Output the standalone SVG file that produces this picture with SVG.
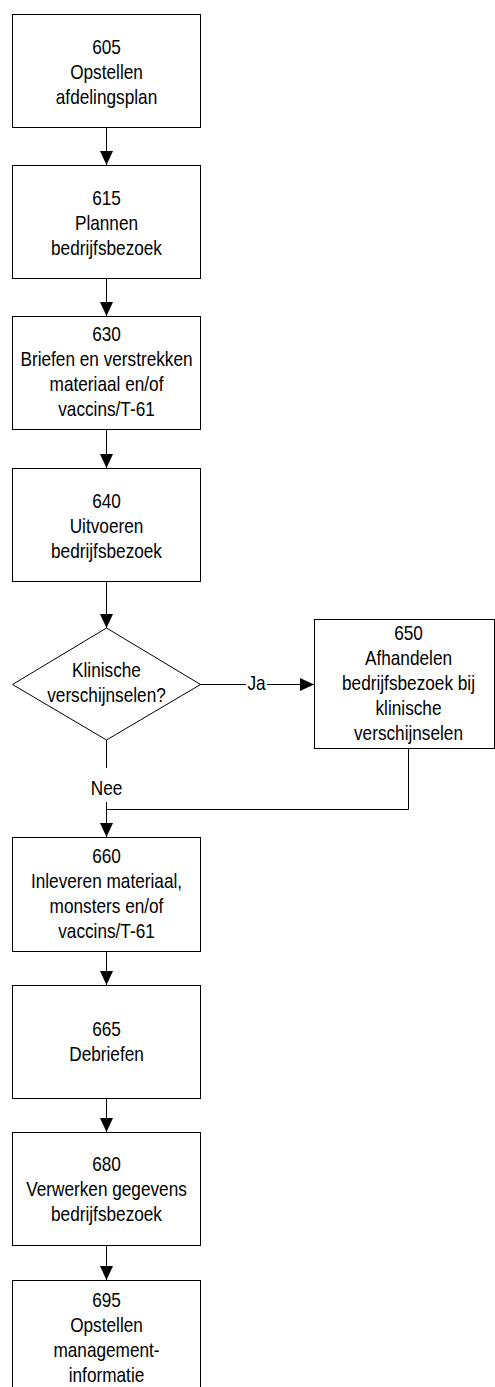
<svg xmlns="http://www.w3.org/2000/svg" width="495" height="1387" viewBox="0 0 495 1387">
<style>
.box{fill:#fff;stroke:#000;stroke-width:1}
.t{font-family:"Liberation Sans",Arial,sans-serif;font-size:21px;text-anchor:middle;fill:#000}
.c{fill:none;stroke:#000;stroke-width:1}
.a{marker-end:url(#ah)}
</style>
<defs>
<marker id="ah" markerUnits="userSpaceOnUse" markerWidth="14" markerHeight="14" refX="14" refY="7" orient="auto">
<path d="M0,0.5 L14,7 L0,13.5 z" fill="#000"/>
</marker>
</defs>
<rect width="495" height="1387" fill="#fff"/>
<g id="connectors">
<path class="c a" d="M106.5,127.5 V165"/>
<path class="c a" d="M106.5,278.5 V316"/>
<path class="c a" d="M106.5,429.5 V468"/>
<path class="c a" d="M106.5,581.5 V628"/>
<path class="c a" d="M200,684.5 H314"/>
<path class="c a" d="M106.5,740 V837"/>
<path class="c" d="M408.5,748.5 V809.5 H106.5"/>
<path class="c a" d="M106.5,951.5 V985"/>
<path class="c a" d="M106.5,1098.5 V1132"/>
<path class="c a" d="M106.5,1245.5 V1280"/>
<rect x="246" y="672" width="21" height="20" fill="#fff"/>
<text class="t" transform="translate(256.5 0) scale(0.82 1)" x="0" y="690">Ja</text>
<rect x="88" y="768" width="37" height="34" fill="#fff"/>
<text class="t" transform="translate(106.5 0) scale(0.82 1)" x="0" y="795">Nee</text>
</g>
<g id="n605">
<rect class="box" x="12.5" y="14.5" width="188" height="113"/>
<text class="t" transform="translate(106.5 0) scale(0.82 1)"><tspan x="0" y="54">605</tspan><tspan x="0" y="79">Opstellen</tspan><tspan x="0" y="104">afdelingsplan</tspan></text>
</g>
<g id="n615">
<rect class="box" x="12.5" y="165.5" width="188" height="113"/>
<text class="t" transform="translate(106.5 0) scale(0.82 1)"><tspan x="0" y="205">615</tspan><tspan x="0" y="230">Plannen</tspan><tspan x="0" y="255">bedrijfsbezoek</tspan></text>
</g>
<g id="n630">
<rect class="box" x="12.5" y="316.5" width="188" height="113"/>
<text class="t" transform="translate(106.5 0) scale(0.82 1)"><tspan x="0" y="341">630</tspan><tspan x="0" y="366">Briefen en verstrekken</tspan><tspan x="0" y="391">materiaal en/of</tspan><tspan x="0" y="416">vaccins/T-61</tspan></text>
</g>
<g id="n640">
<rect class="box" x="12.5" y="468.5" width="188" height="113"/>
<text class="t" transform="translate(106.5 0) scale(0.82 1)"><tspan x="0" y="508">640</tspan><tspan x="0" y="533">Uitvoeren</tspan><tspan x="0" y="558">bedrijfsbezoek</tspan></text>
</g>
<g id="decision">
<path class="box" d="M106.5,628 L200.5,684.5 L106.5,740 L12.5,684.5 z"/>
<text class="t" transform="translate(106.5 0) scale(0.82 1)"><tspan x="0" y="677">Klinische</tspan><tspan x="0" y="702">verschijnselen?</tspan></text>
</g>
<g id="n650">
<rect class="box" x="314.5" y="619.5" width="180" height="129"/>
<text class="t" transform="translate(408.5 0) scale(0.82 1)"><tspan x="0" y="640">650</tspan><tspan x="0" y="665">Afhandelen</tspan><tspan x="0" y="690">bedrijfsbezoek bij</tspan><tspan x="0" y="715">klinische</tspan><tspan x="0" y="740">verschijnselen</tspan></text>
</g>
<g id="n660">
<rect class="box" x="12.5" y="837.5" width="188" height="114"/>
<text class="t" transform="translate(106.5 0) scale(0.82 1)"><tspan x="0" y="863">660</tspan><tspan x="0" y="888">Inleveren materiaal,</tspan><tspan x="0" y="913">monsters en/of</tspan><tspan x="0" y="938">vaccins/T-61</tspan></text>
</g>
<g id="n665">
<rect class="box" x="12.5" y="985.5" width="188" height="113"/>
<text class="t" transform="translate(106.5 0) scale(0.82 1)"><tspan x="0" y="1036">665</tspan><tspan x="0" y="1061">Debriefen</tspan></text>
</g>
<g id="n680">
<rect class="box" x="12.5" y="1132.5" width="188" height="113"/>
<text class="t" transform="translate(106.5 0) scale(0.82 1)"><tspan x="0" y="1171">680</tspan><tspan x="0" y="1196">Verwerken gegevens</tspan><tspan x="0" y="1221">bedrijfsbezoek</tspan></text>
</g>
<g id="n695">
<rect class="box" x="12.5" y="1280.5" width="188" height="113"/>
<text class="t" transform="translate(106.5 0) scale(0.82 1)"><tspan x="0" y="1307">695</tspan><tspan x="0" y="1332">Opstellen</tspan><tspan x="0" y="1357">management-</tspan><tspan x="0" y="1382">informatie</tspan></text>
</g>
</svg>
